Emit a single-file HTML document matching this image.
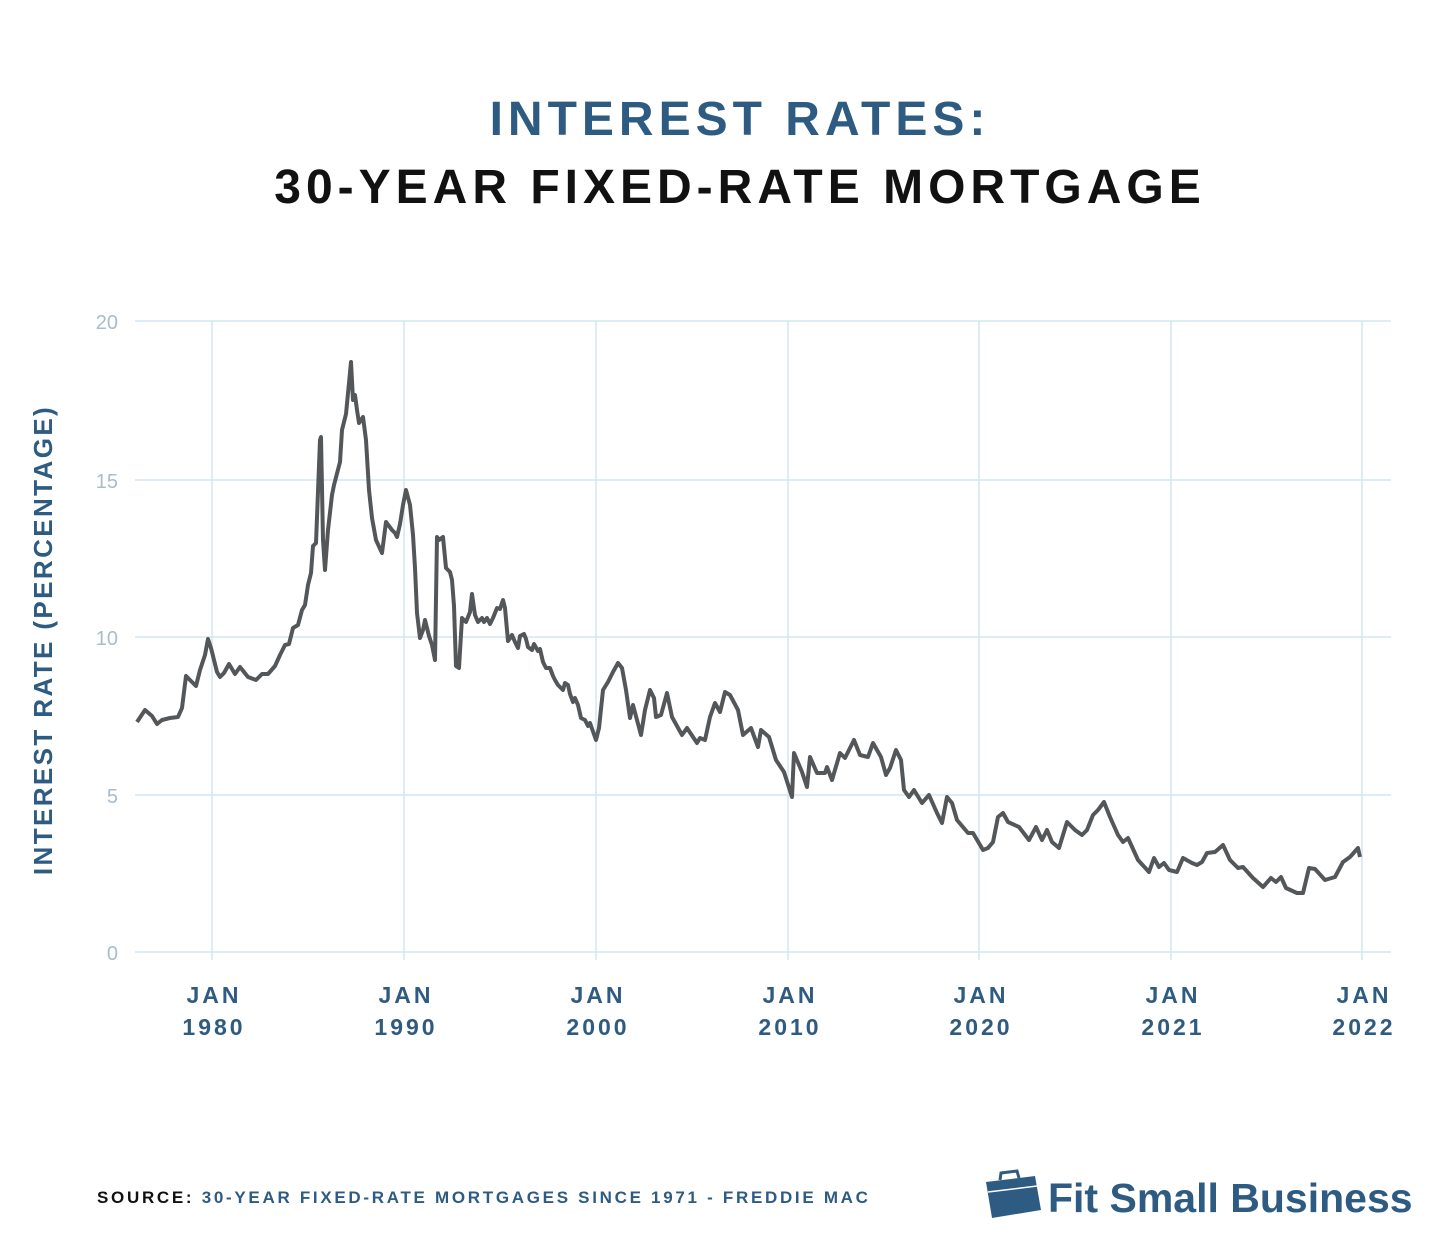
<!DOCTYPE html>
<html><head><meta charset="utf-8"><style>
html,body{margin:0;padding:0;background:#fff;}
body{width:1436px;height:1238px;position:relative;overflow:hidden;font-family:"Liberation Sans",sans-serif;}
.t{position:absolute;left:22px;width:1436px;text-align:center;font-weight:bold;font-size:48px;letter-spacing:5px;}
</style></head><body>
<div class="t" style="top:92px;color:#2e5b82;">INTEREST RATES:</div>
<div class="t" style="top:160px;color:#111;">30-YEAR FIXED-RATE MORTGAGE</div>
<svg width="1436" height="1238" style="position:absolute;left:0;top:0" xmlns="http://www.w3.org/2000/svg">
<g stroke="#d3e5f3" stroke-width="1.5">
<line x1="135" y1="321" x2="1391" y2="321"/><line x1="135" y1="480" x2="1391" y2="480"/>
<line x1="135" y1="637" x2="1391" y2="637"/><line x1="135" y1="795" x2="1391" y2="795"/>
<line x1="135" y1="952" x2="1391" y2="952"/>
<line x1="212" y1="321" x2="212" y2="960"/><line x1="404" y1="321" x2="404" y2="960"/>
<line x1="596" y1="321" x2="596" y2="960"/><line x1="788" y1="321" x2="788" y2="960"/>
<line x1="979" y1="321" x2="979" y2="960"/><line x1="1171" y1="321" x2="1171" y2="960"/>
<line x1="1362" y1="321" x2="1362" y2="960"/>
</g>
<g font-size="20" fill="#a9bccb" text-anchor="end">
<text x="118" y="329">20</text><text x="118" y="488">15</text><text x="118" y="645">10</text>
<text x="118" y="803">5</text><text x="118" y="960">0</text>
</g>
<g font-size="23" font-weight="bold" fill="#2e5b82" text-anchor="middle" letter-spacing="3">
<text x="214" y="1003">JAN</text><text x="214" y="1035">1980</text>
<text x="406" y="1003">JAN</text><text x="406" y="1035">1990</text>
<text x="598" y="1003">JAN</text><text x="598" y="1035">2000</text>
<text x="790" y="1003">JAN</text><text x="790" y="1035">2010</text>
<text x="981" y="1003">JAN</text><text x="981" y="1035">2020</text>
<text x="1173" y="1003">JAN</text><text x="1173" y="1035">2021</text>
<text x="1364" y="1003">JAN</text><text x="1364" y="1035">2022</text>
</g>
<text transform="translate(52,640) rotate(-90)" font-size="26" font-weight="bold" fill="#2e5b82" text-anchor="middle" letter-spacing="2.4">INTEREST RATE (PERCENTAGE)</text>
<polyline fill="none" stroke="#54575a" stroke-width="4" stroke-linejoin="round" points="137,722 145,710 152,716 157,724 162,720 170,718 178,717 182,708 186,676 190,680 196,686 200,670 205,655 208,639 211,648 217,672 220,677 224,673 229,664 235,674 240,667 248,677 256,680 262,674 268,674 275,666 280,655 285,645 289,644 293,628 298,625 302,610 305,605 308,585 311,573 313,546 316,543 320,440 321,437 323,540 325,570 328,530 332,495 334,485 340,462 342,430 346,414 349,383 351,362 353,400 355,395 357,410 359,423 363,417 366,440 369,490 372,518 376,540 382,553 386,522 389,526 392,530 395,533 397,537 400,524 403,505 406,490 410,505 413,535 415,568 417,613 420,638 423,630 425,620 427,628 429,636 432,645 435,660 437,537 439,540 443,537 446,568 448,570 450,572 452,580 454,606 456,666 459,668 462,618 466,622 470,612 472,594 475,615 478,622 482,618 484,622 487,618 490,624 493,618 497,608 500,609 503,600 505,608 508,641 512,635 515,642 518,648 520,636 524,634 526,639 528,647 532,650 534,644 538,651 540,649 543,662 546,668 550,668 553,676 555,680 558,685 563,690 565,683 568,685 570,694 573,702 575,698 578,705 581,718 585,720 588,726 590,723 596,740 599,728 603,690 608,682 613,672 618,663 622,668 626,690 630,718 633,705 641,735 645,710 650,690 654,698 656,717 661,715 667,693 672,717 682,735 687,728 697,743 700,738 705,740 710,717 715,703 720,712 725,692 730,695 738,710 743,735 751,728 758,747 761,730 769,737 776,760 784,772 792,797 794,753 802,772 807,787 810,757 817,773 825,773 827,767 832,780 840,753 845,758 854,740 860,755 868,757 873,743 881,757 886,775 890,768 896,750 901,760 904,790 909,797 914,790 922,803 929,795 937,813 942,823 947,797 952,803 957,820 968,833 973,833 983,850 988,848 993,842 998,817 1003,813 1008,822 1019,827 1029,840 1036,827 1042,840 1047,830 1052,842 1059,848 1067,822 1075,830 1082,835 1087,830 1093,815 1098,810 1104,802 1110,817 1118,835 1123,842 1128,838 1138,860 1149,872 1154,858 1159,867 1164,863 1169,870 1177,872 1183,858 1192,863 1197,865 1202,862 1207,853 1215,852 1223,845 1230,860 1238,868 1243,867 1253,878 1263,887 1271,878 1276,882 1281,877 1286,888 1297,893 1303,893 1309,868 1315,869 1325,880 1335,877 1343,862 1350,857 1358,848 1360,857"/>
<text x="97" y="1203" font-size="17" font-weight="bold" letter-spacing="2.7"><tspan fill="#111">SOURCE:</tspan><tspan fill="#2e5b82"> 30-YEAR FIXED-RATE MORTGAGES SINCE 1971 - FREDDIE MAC</tspan></text>
<g fill="#2e5b82">
<path d="M986,1182 L1035,1176 L1041,1210 L992,1218 Z"/>
<path d="M1000,1180 L1001,1173 L1017,1171 L1019,1178" fill="none" stroke="#2e5b82" stroke-width="3"/>
<path d="M988,1192 L1037,1186" stroke="#fff" stroke-width="1.5"/>
<text x="1048" y="1212" font-size="41" font-weight="bold">Fit Small Business</text>
</g>
</svg>
</body></html>
